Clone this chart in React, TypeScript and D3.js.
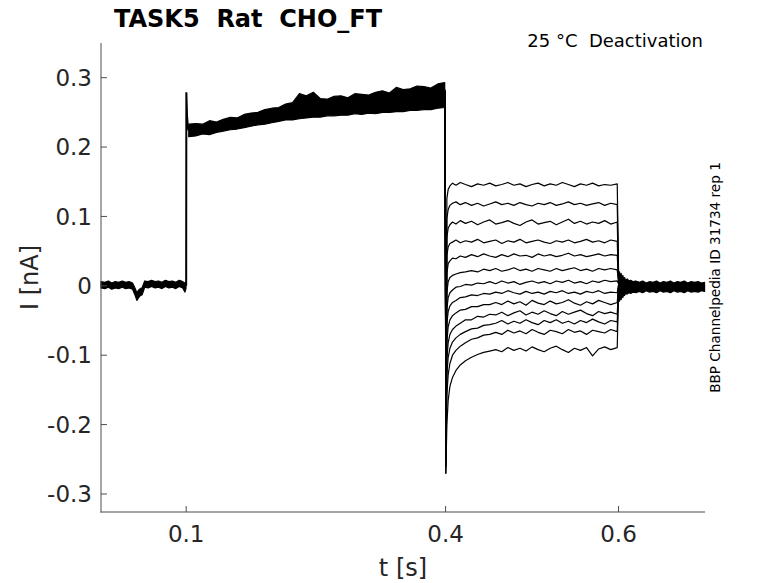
import * as d3 from "d3";
import { useEffect, useRef } from "react";

// holding current before the step (noisy band, with the small dip near 45 ms)
const tPre = [0.0015, 0.006, 0.01, 0.014, 0.018, 0.022, 0.026, 0.03, 0.034, 0.038, 0.041, 0.043, 0.045, 0.047, 0.049, 0.0505, 0.052, 0.056, 0.06, 0.064, 0.068, 0.072, 0.076, 0.08, 0.084, 0.088, 0.092, 0.096, 0.0985, 0.0998];
const preUpper = [0.006, 0.005, 0.007, 0.004, 0.006, 0.005, 0.007, 0.005, 0.006, 0.004, -0.004, -0.01, -0.006, -0.004, -0.003, 0.002, 0.007, 0.006, 0.008, 0.006, 0.007, 0.005, 0.008, 0.006, 0.007, 0.005, 0.008, 0.006, 0.004, 0.005];
const preLower = [-0.003, -0.004, -0.002, -0.005, -0.003, -0.004, -0.002, -0.004, -0.003, -0.005, -0.014, -0.021, -0.017, -0.014, -0.013, -0.008, -0.002, -0.003, -0.001, -0.003, -0.002, -0.004, -0.001, -0.003, -0.002, -0.004, -0.001, -0.003, -0.009, -0.004];

// onset transient at 0.1 s
const tStep = [0.0998, 0.1, 0.1002, 0.101, 0.102, 0.103];
const stepI = [0.0, 0.001, 0.279, 0.245, 0.228, 0.224];

// activating pulse 0.1-0.4 s, all sweeps overlap in one band
const tRise = [0.103, 0.111, 0.119, 0.127, 0.135, 0.143, 0.151, 0.159, 0.167, 0.175, 0.183, 0.191, 0.199, 0.207, 0.215, 0.223, 0.231, 0.239, 0.247, 0.255, 0.263, 0.271, 0.279, 0.287, 0.295, 0.303, 0.311, 0.319, 0.327, 0.335, 0.343, 0.351, 0.359, 0.367, 0.375, 0.383, 0.391, 0.399];
const riseUpper = [0.233, 0.234, 0.233, 0.238, 0.236, 0.24, 0.243, 0.242, 0.247, 0.249, 0.25, 0.254, 0.256, 0.257, 0.262, 0.264, 0.277, 0.274, 0.279, 0.27, 0.269, 0.273, 0.274, 0.271, 0.277, 0.276, 0.275, 0.279, 0.281, 0.278, 0.286, 0.283, 0.284, 0.288, 0.287, 0.285, 0.291, 0.293];
const riseLower = [0.215, 0.216, 0.219, 0.218, 0.221, 0.223, 0.225, 0.226, 0.228, 0.23, 0.232, 0.233, 0.235, 0.237, 0.239, 0.239, 0.241, 0.242, 0.243, 0.243, 0.245, 0.245, 0.246, 0.246, 0.248, 0.247, 0.249, 0.248, 0.25, 0.25, 0.251, 0.251, 0.253, 0.253, 0.254, 0.254, 0.256, 0.257];

// deactivation steps 0.4-0.6 s, one row per sweep (top to bottom)
const tTail = [0.3995, 0.4003, 0.4015, 0.403, 0.405, 0.408, 0.412, 0.417, 0.423, 0.43, 0.437, 0.444, 0.451, 0.458, 0.465, 0.472, 0.479, 0.486, 0.493, 0.5, 0.507, 0.514, 0.521, 0.528, 0.535, 0.542, 0.549, 0.556, 0.563, 0.57, 0.577, 0.584, 0.591, 0.5985, 0.6004];
const tails = [
  [0.272, -0.2, 0.126, 0.139, 0.144, 0.148, 0.145, 0.149, 0.146, 0.143, 0.147, 0.145, 0.148, 0.144, 0.146, 0.149, 0.145, 0.147, 0.143, 0.146, 0.148, 0.144, 0.147, 0.145, 0.149, 0.146, 0.143, 0.147, 0.145, 0.148, 0.144, 0.146, 0.145, 0.147, -0.012],
  [0.268, -0.21, 0.097, 0.11, 0.116, 0.119, 0.121, 0.117, 0.12, 0.116, 0.119, 0.115, 0.118, 0.121, 0.117, 0.119, 0.116, 0.12, 0.117, 0.115, 0.119, 0.117, 0.12, 0.116, 0.118, 0.121, 0.117, 0.119, 0.116, 0.118, 0.12, 0.116, 0.119, 0.117, -0.008],
  [0.275, -0.22, 0.07, 0.083, 0.088, 0.092, 0.089, 0.094, 0.09, 0.093, 0.088, 0.092, 0.095, 0.089, 0.091, 0.094, 0.09, 0.087, 0.092, 0.095, 0.089, 0.091, 0.093, 0.088, 0.092, 0.096, 0.09, 0.093, 0.089, 0.092, 0.09, 0.094, 0.089, 0.092, -0.006],
  [0.265, -0.22, 0.044, 0.056, 0.061, 0.063, 0.066, 0.062, 0.065, 0.063, 0.067, 0.062, 0.064, 0.066, 0.061, 0.065, 0.063, 0.067, 0.062, 0.064, 0.066, 0.063, 0.061, 0.065, 0.063, 0.066, 0.062, 0.064, 0.067, 0.063, 0.065, 0.062, 0.066, 0.064, -0.004],
  [0.28, -0.23, 0.018, 0.032, 0.036, 0.04, 0.039, 0.043, 0.041, 0.045, 0.042, 0.046, 0.043, 0.041, 0.045, 0.042, 0.046, 0.043, 0.044, 0.041, 0.046, 0.043, 0.045, 0.042, 0.044, 0.047, 0.043, 0.045, 0.042, 0.044, 0.046, 0.043, 0.045, 0.044, -0.002],
  [0.262, -0.23, -0.009, 0.006, 0.012, 0.015, 0.017, 0.019, 0.02, 0.022, 0.02, 0.024, 0.022, 0.025, 0.021, 0.023, 0.026, 0.022, 0.024, 0.021, 0.025, 0.023, 0.021, 0.025, 0.022, 0.024, 0.026, 0.022, 0.024, 0.021, 0.025, 0.023, 0.025, 0.023, 0.0],
  [0.278, -0.24, -0.033, -0.017, -0.01, -0.006, -0.002, -0.001, 0.002, 0.001, 0.004, 0.003, 0.006, 0.003, 0.007, 0.004, 0.006, 0.002, 0.005, 0.007, 0.004, 0.006, 0.003, 0.007, 0.005, 0.008, 0.004, 0.006, 0.003, 0.007, 0.005, 0.008, 0.006, 0.007, 0.002],
  [0.27, -0.25, -0.055, -0.037, -0.029, -0.024, -0.021, -0.017, -0.016, -0.013, -0.014, -0.011, -0.012, -0.009, -0.011, -0.007, -0.01, -0.012, -0.008, -0.011, -0.009, -0.012, -0.008, -0.01, -0.007, -0.011, -0.009, -0.012, -0.008, -0.01, -0.007, -0.011, -0.009, -0.01, 0.004],
  [0.283, -0.25, -0.08, -0.059, -0.049, -0.043, -0.039, -0.035, -0.034, -0.03, -0.03, -0.027, -0.027, -0.024, -0.027, -0.022, -0.026, -0.023, -0.028, -0.021, -0.025, -0.027, -0.022, -0.026, -0.024, -0.02, -0.025, -0.028, -0.023, -0.026, -0.021, -0.024, -0.027, -0.024, 0.006],
  [0.266, -0.26, -0.105, -0.082, -0.07, -0.063, -0.058, -0.054, -0.049, -0.049, -0.044, -0.045, -0.041, -0.042, -0.038, -0.043, -0.039, -0.036, -0.042, -0.038, -0.041, -0.036, -0.04, -0.043, -0.037, -0.041, -0.038, -0.035, -0.04, -0.043, -0.037, -0.04, -0.038, -0.041, 0.008],
  [0.276, -0.26, -0.128, -0.103, -0.09, -0.081, -0.075, -0.07, -0.066, -0.062, -0.061, -0.057, -0.056, -0.054, -0.05, -0.055, -0.051, -0.054, -0.049, -0.053, -0.056, -0.05, -0.053, -0.049, -0.054, -0.051, -0.055, -0.05, -0.053, -0.048, -0.052, -0.055, -0.05, -0.052, 0.01],
  [0.269, -0.27, -0.156, -0.128, -0.112, -0.1, -0.093, -0.087, -0.082, -0.077, -0.075, -0.071, -0.07, -0.067, -0.07, -0.064, -0.068, -0.065, -0.069, -0.063, -0.067, -0.07, -0.064, -0.066, -0.069, -0.063, -0.067, -0.065, -0.07, -0.064, -0.066, -0.068, -0.063, -0.066, 0.012],
  [0.281, -0.27, -0.2, -0.165, -0.145, -0.132, -0.122, -0.114, -0.108, -0.103, -0.099, -0.096, -0.094, -0.092, -0.095, -0.089, -0.093, -0.09, -0.094, -0.088, -0.092, -0.095, -0.09, -0.087, -0.092, -0.096, -0.09, -0.093, -0.089, -0.101, -0.091, -0.088, -0.092, -0.089, 0.014],
];

// return to holding after 0.6 s
const tPost = [0.6004, 0.6012, 0.602, 0.603, 0.604, 0.605, 0.606, 0.607, 0.608, 0.61, 0.612, 0.614, 0.617, 0.62, 0.624, 0.628, 0.632, 0.636, 0.64, 0.644, 0.648, 0.652, 0.656, 0.66, 0.664, 0.668, 0.672, 0.676, 0.68, 0.684, 0.688, 0.692, 0.696, 0.6995];
const postUpper = [0.014, 0.02, 0.012, 0.018, 0.01, 0.015, 0.009, 0.012, 0.008, 0.01, 0.007, 0.008, 0.006, 0.007, 0.005, 0.007, 0.004, 0.006, 0.005, 0.007, 0.004, 0.006, 0.005, 0.007, 0.004, 0.006, 0.005, 0.007, 0.004, 0.006, 0.005, 0.006, 0.004, 0.005];
const postLower = [-0.016, -0.022, -0.015, -0.02, -0.013, -0.017, -0.012, -0.014, -0.011, -0.012, -0.01, -0.011, -0.009, -0.01, -0.008, -0.01, -0.007, -0.009, -0.008, -0.01, -0.007, -0.009, -0.008, -0.01, -0.007, -0.009, -0.008, -0.01, -0.007, -0.009, -0.008, -0.009, -0.007, -0.008];

const xTicks = [0.1, 0.4, 0.6];
const yTicks = [-0.3, -0.2, -0.1, 0, 0.1, 0.2, 0.3];

export default function App() {
  const ref = useRef<SVGSVGElement | null>(null);

  useEffect(() => {
    const el = ref.current;
    if (!el) return;
    const svg = d3.select(el);
    svg.selectAll("*").remove();

    const W = 778;
    const H = 583;
    const left = 101, right = 705, top = 43, bottom = 512;
    const axisColor = "#4d4d4d";
    const textColor = "#262626";
    const font = "DejaVu Sans, sans-serif";

    const x = d3.scaleLinear().domain([0.0015, 0.7]).range([left, right]);
    const y = d3.scaleLinear().domain([-0.326, 0.35]).range([bottom, top]);

    svg.attr("width", W).attr("height", H).attr("viewBox", `0 0 ${W} ${H}`);
    svg.append("rect").attr("width", W).attr("height", H).attr("fill", "#fff");

    const band = (ts: number[], lo: number[], hi: number[]) =>
      d3
        .area<number>()
        .x((_, i) => x(ts[i]))
        .y0((_, i) => y(lo[i]))
        .y1((_, i) => y(hi[i]))(ts);

    const trace = (ts: number[], vs: number[]) =>
      d3
        .line<number>()
        .x((_, i) => x(ts[i]))
        .y((v) => y(v))(vs);

    const plot = svg.append("g");

    [
      band(tPre, preLower, preUpper),
      band(tRise, riseLower, riseUpper),
      band(tPost, postLower, postUpper),
    ].forEach((d) => {
      plot
        .append("path")
        .attr("d", d)
        .attr("fill", "#000")
        .attr("stroke", "#000")
        .attr("stroke-width", 1.2)
        .attr("stroke-linejoin", "round");
    });

    plot
      .append("path")
      .attr("d", trace(tStep, stepI))
      .attr("fill", "none")
      .attr("stroke", "#000")
      .attr("stroke-width", 2);

    tails.forEach((vs) => {
      plot
        .append("path")
        .attr("d", trace(tTail.slice(0, vs.length), vs))
        .attr("fill", "none")
        .attr("stroke", "#000")
        .attr("stroke-width", 1.2)
        .attr("stroke-linejoin", "round");
    });

    // axes, MATLAB style: left + bottom only, ticks inside
    const ax = svg.append("g").attr("stroke", axisColor).attr("stroke-width", 1);
    ax.append("line").attr("x1", left).attr("x2", left).attr("y1", top).attr("y2", bottom + 0.5);
    ax.append("line").attr("x1", left - 0.5).attr("x2", right).attr("y1", bottom).attr("y2", bottom);

    yTicks.forEach((v) => {
      ax.append("line").attr("x1", left).attr("x2", left + 6).attr("y1", y(v)).attr("y2", y(v));
      svg
        .append("text")
        .attr("x", left - 9)
        .attr("y", y(v))
        .attr("dy", "0.36em")
        .attr("text-anchor", "end")
        .attr("font-family", font)
        .attr("font-size", 23)
        .attr("fill", textColor)
        .text(v === 0 ? "0" : d3.format(".1f")(v).replace("−", "-"));
    });

    xTicks.forEach((v) => {
      ax.append("line").attr("x1", x(v)).attr("x2", x(v)).attr("y1", bottom).attr("y2", bottom - 6);
      svg
        .append("text")
        .attr("x", x(v))
        .attr("y", 542)
        .attr("text-anchor", "middle")
        .attr("font-family", font)
        .attr("font-size", 23)
        .attr("fill", textColor)
        .text(d3.format(".1f")(v));
    });

    svg
      .append("text")
      .attr("x", (left + right) / 2)
      .attr("y", 576)
      .attr("text-anchor", "middle")
      .attr("font-family", font)
      .attr("font-size", 24)
      .attr("fill", textColor)
      .text("t [s]");

    svg
      .append("text")
      .attr("transform", `translate(38,${(top + bottom) / 2}) rotate(-90)`)
      .attr("text-anchor", "middle")
      .attr("font-family", font)
      .attr("font-size", 24)
      .attr("fill", textColor)
      .text("I [nA]");

    svg
      .append("text")
      .attr("x", 114)
      .attr("y", 27)
      .attr("font-family", font)
      .attr("font-size", 24)
      .attr("font-weight", "bold")
      .attr("fill", "#000")
      .style("white-space", "pre")
      .text("TASK5  Rat  CHO_FT");

    svg
      .append("text")
      .attr("x", 703)
      .attr("y", 47)
      .attr("text-anchor", "end")
      .attr("font-family", font)
      .attr("font-size", 18)
      .attr("fill", "#000")
      .style("white-space", "pre")
      .text("25 °C  Deactivation");

    svg
      .append("text")
      .attr("transform", `translate(720,${(top + bottom) / 2}) rotate(-90)`)
      .attr("text-anchor", "middle")
      .attr("font-family", font)
      .attr("font-size", 13.6)
      .attr("fill", "#000")
      .text("BBP Channelpedia ID 31734 rep 1");
  }, []);

  return <svg ref={ref} style={{ position: "absolute", left: 0, top: 0, display: "block" }} />;
}
